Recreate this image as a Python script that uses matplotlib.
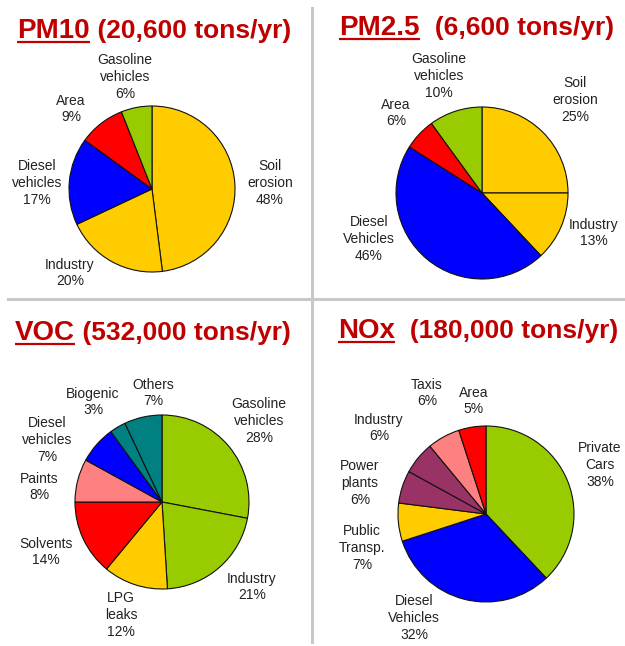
import numpy as np
import matplotlib.pyplot as plt

W, H = 625, 646

# data
pm10_labels = ['Soil\nerosion', 'Industry', 'Diesel\nvehicles', 'Area', 'Gasoline\nvehicles']
pm10_values = [48, 20, 17, 9, 6]

pm25_labels = ['Soil\nerosion', 'Industry', 'Diesel\nVehicles', 'Area', 'Gasoline\nvehicles']
pm25_values = [25, 13, 46, 6, 10]

voc_labels = ['Gasoline\nvehicles', 'Industry', 'LPG\nleaks', 'Solvents', 'Paints',
              'Diesel\nvehicles', 'Biogenic', 'Others']
voc_values = [28, 21, 12, 14, 8, 7, 3, 7]

nox_labels = ['Private\nCars', 'Diesel\nVehicles', 'Public\nTransp.', 'Power\nplants',
              'Industry', 'Taxis', 'Area']
nox_values = [38, 32, 7, 6, 6, 6, 5]

# styles
yellow, green, blue, red = '#FFCC00', '#99CC00', '#0000FF', '#FF0000'
pink, teal, plum = '#FF8080', '#008080', '#993366'
pm10_colors = [yellow, yellow, blue, red, green]
pm25_colors = [yellow, yellow, blue, red, green]
voc_colors = [green, green, yellow, red, pink, blue, teal, teal]
nox_colors = [green, blue, yellow, plum, plum, pink, red]

# label centres, image pixels
pm10_pos = [(270, 183), (70, 273), (37, 183), (71, 109), (125, 77)]
pm25_pos = [(575, 100), (594, 233), (369, 239), (396, 113), (439, 76)]
voc_pos = [(259, 421), (252, 587), (121, 615), (46, 552), (39, 487),
           (47, 440), (93, 402), (153, 393)]
nox_pos = [(600, 465), (414, 618), (362, 548), (360, 483), (379, 428),
           (427, 393), (474, 401)]

panels = [
    ('PM10', ' (20,600 tons/yr)', (17, 38), pm10_labels, pm10_values, pm10_colors, pm10_pos, (152, 189), 83),
    ('PM2.5', '  (6,600 tons/yr)', (339, 35), pm25_labels, pm25_values, pm25_colors, pm25_pos, (482, 193), 86),
    ('VOC', ' (532,000 tons/yr)', (15, 340), voc_labels, voc_values, voc_colors, voc_pos, (162, 502), 87),
    ('NOx', '  (180,000 tons/yr)', (338, 338), nox_labels, nox_values, nox_colors, nox_pos, (486, 514), 88),
]

fig = plt.figure(figsize=(W / 100, H / 100), dpi=100)
ax = fig.add_axes([0, 0, 1, 1])
renderer = fig.canvas.get_renderer()
title_color = '#BE0000'

for name, rest, (tx, ty), labels, values, colors, pos, (cx, cy), r in panels:
    ax.pie(values, colors=colors, startangle=90, counterclock=False,
           center=(cx, H - cy), radius=r,
           wedgeprops=dict(edgecolor='#111111', linewidth=0.8))
    for lab, val, (lx, ly) in zip(labels, values, pos):
        ax.text(lx, H - ly, f'{lab}\n{val}%', ha='center', va='center',
                fontsize=10, family='Liberation Sans', color='#222222',
                linespacing=1.25)

ax.set_xlim(0, W)
ax.set_ylim(0, H)
ax.axis('off')

for name, rest, (tx, ty), *_ in panels:
    t1 = ax.text(tx, H - ty, name, ha='left', va='baseline', fontsize=20,
                 fontweight='bold', family='Liberation Sans', color=title_color)
    bb = t1.get_window_extent(renderer)
    x1 = ax.transData.inverted().transform((bb.x1, 0))[0]
    ax.plot([tx, x1], [H - ty - 3.5, H - ty - 3.5], color=title_color, lw=1.6,
            solid_capstyle='butt')
    ax.text(x1, H - ty, rest, ha='left', va='baseline', fontsize=19,
            fontweight='bold', family='Liberation Sans', color=title_color)

# divider lines
ax.plot([311.5, 311.5], [H - 8, H - 642], color='#C8C8C8', lw=2.2)
ax.plot([8, W], [H - 298.5, H - 298.5], color='#C8C8C8', lw=2.2)

fig.savefig('out.png', dpi=100)
